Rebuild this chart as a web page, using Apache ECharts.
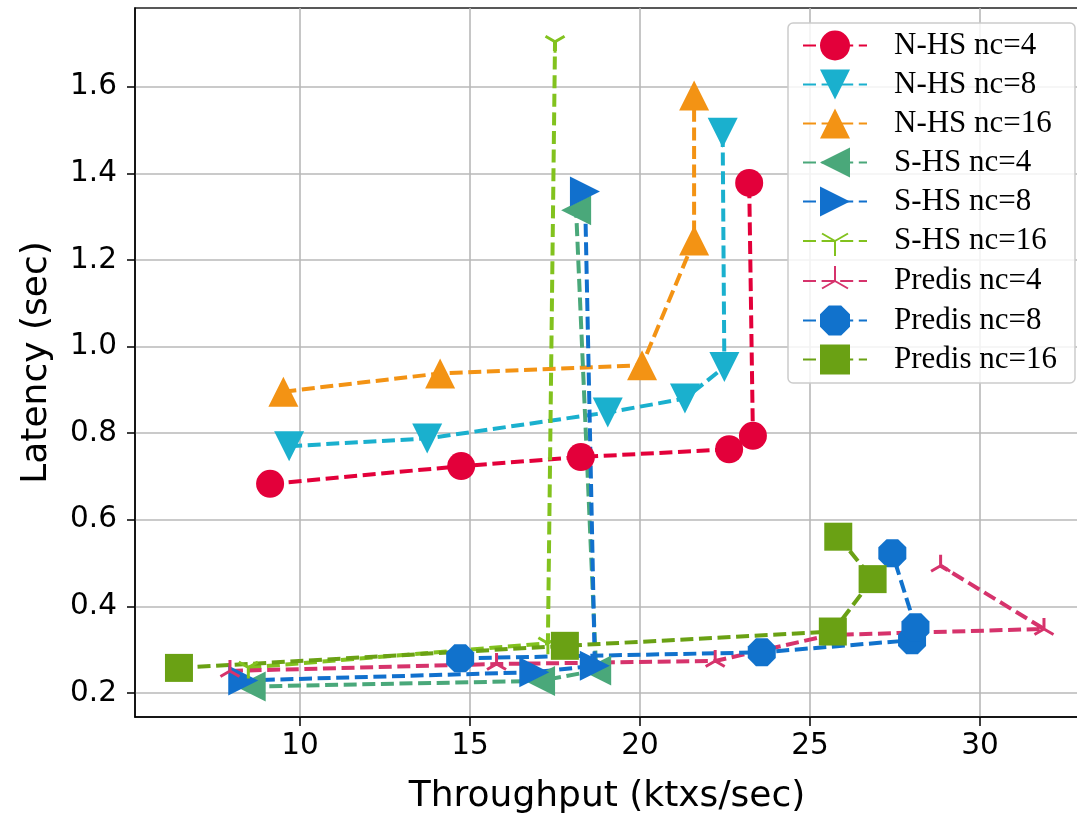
<!DOCTYPE html>
<html>
<head>
<meta charset="utf-8">
<script src="https://cdn.jsdelivr.net/npm/echarts@6/dist/echarts.min.js"></script>
<style>
  html, body { margin: 0; padding: 0; background: #fff; }
  #chart { width: 1077px; height: 815px; }
</style>
</head>
<body>
<div id="chart"></div>
<script>
// Throughput (ktxs/sec) vs latency (sec) measurements, one [x, y] list per configuration
const nhs4 = [[9.12, 0.683], [14.74, 0.724], [18.26, 0.745], [22.62, 0.763], [23.32, 0.794], [23.21, 1.378]];
const nhs8 = [[9.68, 0.770], [13.74, 0.788], [19.05, 0.848], [21.32, 0.880], [22.48, 0.953], [22.43, 1.494]];
const nhs16 = [[9.51, 0.896], [14.12, 0.938], [20.06, 0.957], [21.59, 1.245], [21.59, 1.580]];
const shs4 = [[8.55, 0.215], [17.06, 0.228], [18.71, 0.252], [18.12, 1.315]];
const shs8 = [[8.33, 0.229], [16.89, 0.248], [18.67, 0.263], [18.38, 1.358]];
const shs16 = [[8.48, 0.259], [17.29, 0.315], [17.50, 1.704]];
const predis4 = [[7.94, 0.251], [15.78, 0.267], [22.21, 0.274], [25.59, 0.334], [31.88, 0.348], [28.84, 0.494]];
const predis8 = [[14.71, 0.280], [23.58, 0.294], [28.00, 0.322], [28.10, 0.352], [27.42, 0.523]];
const predis16 = [[6.44, 0.258], [17.79, 0.309], [25.67, 0.342], [26.84, 0.463], [25.83, 0.561]];

const seriesNames = ['N-HS nc=4', 'N-HS nc=8', 'N-HS nc=16', 'S-HS nc=4', 'S-HS nc=8', 'S-HS nc=16', 'Predis nc=4', 'Predis nc=8', 'Predis nc=16'];
const xTicks = [10, 15, 20, 25, 30];
const yTicks = [0.2, 0.4, 0.6, 0.8, 1.0, 1.2, 1.4, 1.6];

// marker shapes
const OCTAGON = 'path://M-0.414,-1L0.414,-1L1,-0.414L1,0.414L0.414,1L-0.414,1L-1,0.414L-1,-0.414Z';
// three-armed markers; the extra moveTo points keep the junction at the symbol centre
const TRI_DOWN = 'path://M-10,-10M10,10M0,0L0,10M0,0L-8.66,-5M0,0L8.66,-5';
const TRI_UP = 'path://M-10,-10M10,10M0,0L0,-10M0,0L-8.66,5M0,0L8.66,5';

const DASH = [13, 5.6];

function lineSeries(name, data, color, symbol, size, rotate, hollow) {
  return {
    name: name,
    type: 'line',
    data: data,
    symbol: symbol,
    symbolSize: size,
    symbolRotate: rotate,
    symbolKeepAspect: true,
    showAllSymbol: true,
    color: color,
    lineStyle: { color: color, width: 4, type: DASH },
    itemStyle: hollow
      ? { color: 'rgba(0,0,0,0)', borderColor: color, borderWidth: 3 }
      : { color: color, borderWidth: 0 },
    emphasis: { disabled: true },
    z: 2
  };
}

const chart = echarts.init(document.getElementById('chart'), null, { renderer: 'canvas' });

chart.setOption({
  animation: false,
  backgroundColor: '#ffffff',
  grid: {
    left: 135, top: 8, width: 944, height: 709,
    containLabel: false,
    outerBoundsMode: 'none',
    show: true, borderColor: '#222', borderWidth: 1.5, backgroundColor: 'transparent'
  },
  xAxis: {
    type: 'value',
    min: 5.147, max: 32.91,
    name: 'Throughput (ktxs/sec)',
    nameLocation: 'middle',
    nameGap: 62,
    nameTextStyle: { fontFamily: 'DejaVu Sans', fontSize: 36, color: '#000' },
    axisLine: { show: true, onZero: false, lineStyle: { color: '#000', width: 1.5 } },
    axisTick: { show: true, length: 9, customValues: xTicks, lineStyle: { color: '#000', width: 1.5 } },
    axisLabel: { customValues: xTicks, margin: 14, fontFamily: 'DejaVu Sans', fontSize: 29.5, color: '#000' },
    splitLine: { show: true, lineStyle: { color: '#b8b8b8', width: 1.6 } }
  },
  yAxis: {
    type: 'value',
    min: 0.1446, max: 1.782,
    name: 'Latency (sec)',
    nameLocation: 'middle',
    nameGap: 80,
    nameTextStyle: { fontFamily: 'DejaVu Sans', fontSize: 36, color: '#000' },
    axisLine: { show: true, onZero: false, lineStyle: { color: '#000', width: 1.5 } },
    axisTick: { show: true, length: 8, customValues: yTicks, lineStyle: { color: '#000', width: 1.5 } },
    axisLabel: {
      customValues: yTicks, margin: 18, fontFamily: 'DejaVu Sans', fontSize: 29.5, color: '#000',
      formatter: function (v) { return v.toFixed(1); }
    },
    splitLine: { show: true, lineStyle: { color: '#b8b8b8', width: 1.6 } }
  },
  legend: {
    show: true,
    orient: 'vertical',
    left: 788,
    top: 23,
    data: seriesNames,
    itemWidth: 64,
    itemHeight: 37.5,
    itemGap: 8,
    padding: [7, 18, 8, 14],
    backgroundColor: 'rgba(255,255,255,0.82)',
    borderColor: '#cccccc',
    borderWidth: 1.5,
    borderRadius: 5,
    textStyle: { fontFamily: 'Liberation Serif', fontSize: 31, color: '#000', padding: [0, 0, 0, 22] },
    selectedMode: false
  },
  series: [
    lineSeries('N-HS nc=4', nhs4, '#e3003a', 'circle', 28, 0, false),
    lineSeries('N-HS nc=8', nhs8, '#1ab0ce', 'triangle', 30, 180, false),
    lineSeries('N-HS nc=16', nhs16, '#f39314', 'triangle', 30, 0, false),
    lineSeries('S-HS nc=4', shs4, '#4aa87a', 'triangle', 30, 90, false),
    lineSeries('S-HS nc=8', shs8, '#1170cd', 'triangle', 30, -90, false),
    lineSeries('S-HS nc=16', shs16, '#82c21e', TRI_DOWN, 22, 0, true),
    lineSeries('Predis nc=4', predis4, '#d6336c', TRI_UP, 22, 0, true),
    lineSeries('Predis nc=8', predis8, '#1172cc', OCTAGON, 28, 0, false),
    lineSeries('Predis nc=16', predis16, '#6aa114', 'rect', 28, 0, false)
  ]
});
</script>
</body>
</html>
